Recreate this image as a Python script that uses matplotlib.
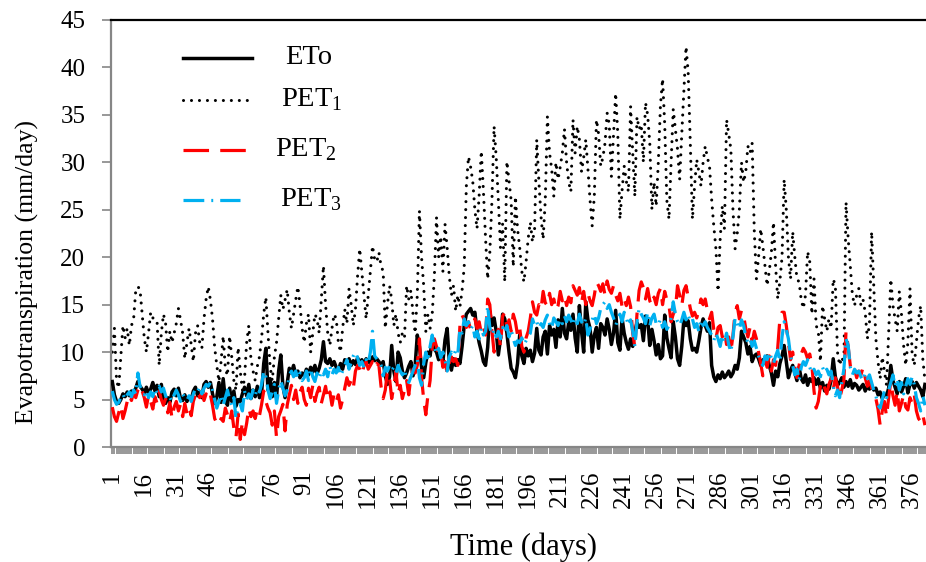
import numpy as np
import matplotlib
matplotlib.use("Agg")
import matplotlib.pyplot as plt
from matplotlib.lines import Line2D

plt.rcParams["font.family"] = ["Liberation Serif", "DejaVu Serif"]
plt.rcParams["mathtext.fontset"] = "custom"
plt.rcParams["mathtext.rm"] = "Liberation Serif"

# daily values (rows of 15 days)
eto = [
    6.9, 5.5, 4.8, 4.6, 5.0, 5.6, 5.3, 5.8, 5.4, 5.9, 5.6, 6.2, 6.9, 6.4, 6.1,
    5.7, 6.3, 5.6, 6.1, 6.8, 5.9, 6.5, 5.3, 6.6, 5.0, 4.6, 5.2, 4.7, 5.8, 6.1,
    5.4, 6.2, 5.1, 4.9, 5.5, 4.8, 5.3, 5.0, 5.9, 6.3, 5.4, 5.8, 5.2, 6.6, 6.9,
    6.3, 6.8, 5.6, 4.6, 5.3, 6.8, 4.7, 7.2, 5.0, 4.4, 6.2, 4.8, 5.9, 4.3, 5.0,
    4.8, 5.6, 6.3, 5.4, 6.6, 5.1, 6.0, 5.3, 6.4, 5.2, 5.6, 8.8, 10.4, 6.0, 7.2,
    5.3, 6.8, 5.2, 8.0, 9.7, 6.4, 5.2, 6.7, 8.3, 7.8, 8.6, 7.6, 8.0, 7.3, 7.8,
    7.5, 8.2, 7.6, 8.4, 7.9, 8.6, 7.7, 8.3, 9.2, 11.1, 9.0, 8.8, 9.3, 8.6, 9.0,
    8.4, 8.1, 8.8, 8.2, 9.2, 8.8, 9.3, 8.6, 9.1, 8.7, 9.4, 8.9, 9.2, 8.7, 9.3,
    9.0, 8.8, 9.5, 9.1, 9.3, 9.0, 8.6, 9.0, 7.5, 6.6, 7.4, 10.7, 8.0, 6.9, 10.0,
    9.4, 8.0, 7.3, 7.8, 8.5, 9.0, 7.5, 8.6, 11.8, 10.6, 8.4, 7.3, 8.9, 10.0, 9.6,
    11.4, 10.3, 10.0, 9.2, 9.9, 9.0, 11.3, 12.5, 9.0, 8.1, 9.3, 8.6, 9.2, 8.8, 10.6,
    12.8, 14.0, 14.3, 14.6, 13.9, 14.2, 12.2, 11.0, 10.1, 9.0, 8.6, 10.5, 14.3, 12.8, 13.6,
    12.2, 9.7, 11.4, 14.0, 13.5, 12.0, 10.0, 8.3, 7.9, 7.3, 8.8, 11.8, 9.6, 8.8, 10.4,
    9.6, 10.2, 9.0, 9.9, 12.5, 10.2, 9.7, 11.6, 12.2, 9.8, 12.8, 11.8, 12.4, 10.5, 13.4,
    11.6, 14.6, 12.0, 11.4, 13.2, 12.3, 14.0, 11.5, 10.0, 14.9, 12.2, 10.0, 15.3, 13.4, 12.5,
    10.0, 11.8, 12.6, 10.4, 13.0, 12.6, 11.8, 13.5, 12.4, 10.8, 12.0, 14.4, 11.0, 10.2, 13.6,
    12.0, 11.0, 10.3, 11.4, 10.6, 12.2, 13.1, 12.6, 12.9, 11.2, 13.8, 13.5, 10.7, 12.4, 11.2,
    9.7, 10.8, 9.3, 9.6, 13.9, 11.5, 10.4, 9.4, 13.2, 11.6, 9.3, 8.6, 10.6, 13.5, 12.8,
    13.3, 11.4, 10.2, 10.4, 10.0, 11.2, 12.6, 13.5, 12.8, 12.2, 13.1, 8.6, 7.4, 6.9, 7.6,
    7.2, 7.9, 7.3, 7.6, 8.0, 7.4, 7.8, 8.6, 8.2, 9.4, 12.2, 11.6, 11.0, 9.8, 10.6,
    9.0, 9.6, 9.8, 9.3, 8.6, 9.2, 8.9, 9.6, 8.6, 7.8, 6.5, 8.0, 7.4, 8.8, 9.6,
    10.7, 9.0, 7.3, 8.1, 8.6, 7.8, 7.0, 8.4, 7.2, 6.8, 7.6, 6.5, 7.2, 6.9, 7.3,
    6.6, 7.2, 6.2, 6.8, 5.9, 6.5, 6.1, 7.0, 9.3, 7.4, 6.5, 6.8, 7.3, 6.3, 6.9,
    6.4, 7.1, 6.2, 6.7, 6.5, 6.0, 6.3, 6.6, 5.9, 6.4, 6.1, 6.5, 6.0, 6.2, 5.5,
    5.8, 5.1, 5.6, 5.4, 6.2, 8.6, 7.0, 6.3, 5.6, 6.9, 5.8, 6.4, 7.2, 5.7, 6.6,
    6.9, 6.2, 6.8, 6.4, 6.0, 5.3, 6.6,
]

pet1 = [
    10.0, 12.5, 7.0, 6.2, 9.5, 12.8, 11.5, 12.5, 10.7, 12.8, 13.5, 16.5, 16.9, 16.6, 14.0,
    11.5, 10.0, 12.0, 14.2, 13.6, 13.6, 13.2, 8.6, 12.0, 14.0, 13.0, 10.0, 12.2, 11.0, 12.0,
    13.0, 14.6, 13.4, 12.0, 9.3, 11.0, 12.5, 10.8, 9.0, 12.0, 12.8, 11.0, 10.4, 13.5, 15.6,
    16.9, 15.5, 13.5, 10.5, 8.6, 6.9, 9.0, 11.7, 8.3, 7.5, 11.7, 9.5, 7.0, 6.0, 10.5,
    8.0, 6.0, 7.2, 11.0, 12.8, 9.3, 8.0, 7.0, 8.5, 9.5, 11.5, 14.0, 15.8, 12.0, 8.5,
    7.0, 9.5, 11.0, 13.5, 16.0, 14.5, 15.5, 16.6, 14.2, 12.5, 14.0, 15.5, 16.9, 15.0, 12.5,
    11.0, 13.0, 14.0, 10.0, 12.0, 14.0, 13.5, 12.0, 15.5, 19.1, 15.0, 12.0, 10.7, 12.5, 14.0,
    13.5, 11.0, 10.0, 12.5, 14.5, 13.0, 16.7, 15.0, 12.8, 14.5, 18.0, 20.9, 18.5, 16.0, 13.5,
    16.0, 18.5, 21.2, 19.8, 19.5, 20.5, 19.1, 18.5, 12.5, 15.0, 17.0, 15.5, 12.8, 14.0, 12.0,
    11.0, 12.0, 11.5, 17.0, 15.6, 16.5, 14.0, 12.0, 16.0, 24.9, 20.0, 17.0, 12.2, 14.0, 12.5,
    14.0, 18.0, 24.2, 20.0, 22.2, 18.5, 23.5, 21.0, 18.0, 16.0, 17.0, 14.3, 16.0, 14.8, 16.5,
    19.0, 27.5, 30.6, 29.5, 28.0, 25.0, 23.0, 26.5, 31.2, 27.0, 22.0, 17.7, 20.5, 26.0, 33.8,
    30.5, 26.0, 21.0, 23.5, 17.4, 30.1, 28.0, 26.0, 19.0, 26.4, 23.0, 21.0, 18.5, 17.4, 19.5,
    22.0, 23.7, 21.6, 23.0, 32.4, 28.0, 24.3, 21.9, 26.0, 34.8, 31.0, 29.3, 26.4, 30.0, 28.2,
    29.5, 31.0, 33.5, 30.0, 27.9, 26.9, 34.5, 31.0, 33.8, 32.4, 29.0, 30.5, 32.4, 29.3, 26.0,
    23.3, 26.5, 34.5, 33.0, 29.6, 30.5, 32.0, 35.2, 34.0, 28.5, 33.0, 37.3, 33.0, 24.0, 27.0,
    29.6, 28.0, 26.9, 35.9, 31.0, 26.4, 34.8, 33.5, 34.0, 30.0, 36.3, 35.0, 32.0, 25.0, 27.9,
    25.4, 30.0, 36.0, 38.8, 34.0, 26.0, 24.0, 30.0, 35.6, 33.5, 31.4, 28.2, 33.0, 37.5, 42.2,
    39.5, 32.0, 24.0, 27.5, 30.3, 29.0, 27.5, 30.0, 31.7, 30.5, 29.6, 26.1, 23.3, 20.9, 16.4,
    21.9, 25.4, 23.0, 34.5, 33.0, 31.4, 25.0, 20.9, 22.5, 25.0, 30.0, 27.9, 29.0, 31.7, 31.0,
    32.0, 22.7, 17.7, 20.0, 23.0, 21.2, 19.1, 17.0, 18.5, 20.5, 23.7, 19.0, 15.6, 17.5, 20.0,
    28.2, 25.0, 20.0, 17.7, 22.7, 20.0, 17.7, 17.4, 15.5, 14.6, 16.0, 20.6, 19.5, 14.0, 17.7,
    12.8, 12.2, 9.0, 14.9, 13.5, 12.2, 13.5, 12.5, 17.7, 17.0, 10.0, 8.6, 9.5, 8.8, 25.8,
    22.0, 19.1, 16.0, 14.9, 16.0, 16.7, 14.9, 15.5, 14.2, 11.4, 13.0, 22.7, 17.0, 11.4, 9.0,
    7.2, 9.5, 8.0, 6.5, 12.0, 17.7, 14.9, 13.5, 12.2, 16.4, 14.0, 10.7, 8.6, 11.0, 16.7,
    9.7, 8.6, 11.0, 13.5, 14.9, 9.3, 7.0,
]

pet2 = [
    4.2, 3.2, 2.7, 3.6, 4.4, 3.0, 3.8, 4.8, 5.5, 4.9, 5.8, 5.2, 6.0, 6.5, 5.9,
    5.2, 4.2, 5.5, 4.8, 4.0, 5.3, 4.6, 5.9, 5.0, 4.4, 5.1, 3.6, 4.7, 3.0, 4.2,
    4.8, 3.8, 4.5, 3.2, 4.6, 3.5, 4.2, 3.3, 4.8, 5.5, 6.0, 5.2, 5.8, 4.9, 5.6,
    5.0, 5.5, 4.4, 3.0, 2.5, 2.3, 3.0, 2.7, 4.1, 3.4, 2.6, 3.8, 2.0, 1.0, 3.5,
    0.8, 2.7, 1.3, 2.5, 4.1, 3.2, 3.8, 3.0, 4.0, 3.3, 4.5, 5.9, 4.8, 4.1, 3.6,
    2.3, 3.8, 1.0, 3.2, 3.8, 4.5, 1.7, 4.4, 5.5, 6.5, 5.0, 6.0, 4.6, 5.8, 6.3,
    5.0, 4.4, 6.2, 5.2, 6.5, 4.8, 5.7, 6.3, 4.6, 5.5, 6.4, 5.0, 5.8, 4.4, 5.6,
    4.8, 5.5, 4.1, 5.0, 6.2, 7.3, 6.5, 7.0, 6.2, 8.0, 8.6, 8.2, 7.6, 8.6, 9.0,
    8.2, 8.6, 9.0, 8.3, 8.8, 8.6, 6.4, 5.1, 6.0, 8.0, 7.2, 5.1, 6.4, 8.0, 5.6,
    6.5, 5.1, 6.0, 7.0, 5.5, 7.4, 8.2, 7.8, 8.6, 11.4, 7.3, 5.0, 3.4, 5.5, 7.0,
    10.5, 11.4, 10.6, 9.8, 10.0, 8.4, 9.0, 7.8, 8.8, 9.5, 9.0, 9.3, 8.6, 12.8, 13.9,
    13.4, 12.6, 13.2, 12.4, 13.0, 13.5, 12.5, 13.2, 12.0, 12.6, 11.8, 15.6, 15.0, 12.2, 10.0,
    11.0, 12.4, 10.5, 13.8, 14.2, 12.6, 13.4, 12.2, 14.0, 13.2, 11.8, 12.6, 10.6, 10.0, 11.5,
    12.2, 13.6, 15.3, 14.2, 13.9, 15.0, 14.5, 16.4, 15.2, 14.9, 16.2, 15.0, 15.6, 14.4, 14.9,
    16.4, 15.4, 16.0, 14.9, 15.8, 15.2, 17.0, 16.5, 16.0, 16.8, 15.2, 16.4, 15.0, 16.2, 15.4,
    14.9, 16.0, 17.4, 17.0, 16.4, 17.2, 16.0, 17.5, 16.6, 16.2, 17.0, 16.0, 15.4, 16.2, 14.8,
    15.6, 14.9, 15.8, 14.8, 12.0, 10.5, 14.0, 16.5, 17.4, 16.8, 15.6, 16.7, 15.4, 14.9, 15.8,
    15.0, 16.2, 16.7, 15.0, 16.4, 15.5, 14.9, 13.2, 14.0, 14.5, 17.0, 16.0, 14.9, 16.5, 17.0,
    15.8, 14.6, 13.8, 14.2, 13.6, 14.4, 15.6, 15.0, 15.6, 14.4, 13.5, 14.2, 12.4, 11.4, 12.6,
    12.8, 11.6, 12.2, 10.8, 11.6, 10.0, 11.8, 14.2, 14.9, 13.5, 14.4, 13.8, 12.5, 11.6, 12.6,
    11.0, 12.2, 11.4, 10.0, 8.8, 7.5, 9.2, 8.4, 9.6, 8.0, 9.2, 8.6, 10.5, 13.5, 14.2,
    14.2, 12.8, 11.0, 9.2, 10.0, 8.4, 7.3, 8.6, 9.8, 10.4, 10.0, 9.3, 9.8, 8.6, 5.9,
    4.1, 4.8, 6.4, 7.0, 6.2, 5.6, 6.6, 7.2, 6.0, 7.3, 6.4, 5.1, 6.0, 7.0, 12.2,
    10.6, 8.6, 7.8, 8.2, 7.3, 8.0, 7.6, 8.4, 7.3, 6.4, 7.0, 6.2, 5.8, 5.1, 4.0,
    2.3, 3.8, 4.8, 3.2, 5.2, 6.9, 5.4, 4.4, 5.9, 3.8, 4.6, 5.5, 4.2, 3.9, 5.2,
    4.6, 5.5, 3.8, 3.0, 2.7, 3.4, 2.3,
]

pet3 = [
    5.9, 5.0, 4.5, 4.7, 5.2, 5.6, 5.0, 5.5, 5.8, 5.3, 6.0, 5.6, 7.8, 6.4, 6.0,
    5.5, 6.0, 5.2, 5.8, 5.3, 6.2, 5.7, 6.4, 5.8, 6.2, 5.4, 4.9, 5.2, 4.8, 5.5,
    6.0, 5.5, 4.8, 5.6, 5.2, 4.9, 5.4, 4.8, 5.6, 6.1, 5.8, 6.4, 5.6, 6.2, 6.6,
    6.4, 6.8, 6.0, 5.0, 4.1, 4.8, 5.5, 4.4, 5.2, 6.0, 5.0, 4.4, 5.2, 3.0, 4.2,
    4.5, 3.8, 5.9, 5.0, 5.6, 5.1, 6.0, 5.4, 6.2, 5.8, 6.6, 8.0, 7.4, 6.0, 5.1,
    5.8, 6.6, 4.6, 6.0, 7.0, 6.2, 5.4, 6.0, 7.6, 8.0, 7.4, 8.0, 7.2, 7.8, 7.0,
    7.3, 8.0, 7.0, 8.3, 7.4, 6.9, 7.8, 7.2, 8.0, 7.6, 8.2, 7.4, 8.6, 7.6, 8.2,
    7.8, 8.4, 7.5, 8.0, 8.6, 9.2, 8.2, 8.9, 9.6, 10.0, 9.4, 8.6, 9.0, 8.4, 9.2,
    8.8, 10.0, 12.2, 9.6, 9.3, 9.0, 8.6, 7.5, 8.4, 8.0, 8.6, 8.1, 8.4, 7.8, 8.6,
    8.0, 7.6, 8.2, 7.2, 6.8, 7.4, 8.0, 8.6, 9.3, 7.3, 6.5, 8.8, 10.0, 9.0, 10.6,
    11.8, 10.5, 9.8, 10.4, 9.4, 10.0, 9.2, 8.0, 9.5, 10.0, 9.6, 10.2, 9.8, 12.5, 12.0,
    13.5, 12.8, 13.2, 12.4, 12.8, 11.6, 12.2, 11.4, 12.6, 11.8, 12.2, 14.9, 12.6, 11.8, 12.4,
    11.6, 12.2, 11.4, 12.6, 12.0, 12.8, 11.6, 12.4, 11.4, 10.7, 11.2, 11.0, 11.5, 10.8, 11.2,
    11.6, 12.0, 13.5, 12.8, 13.2, 12.5, 13.0, 12.6, 13.4, 13.9, 13.0, 12.5, 13.6, 13.2, 12.8,
    13.5, 13.0, 13.8, 13.2, 13.9, 13.4, 12.8, 13.6, 13.0, 14.0, 13.2, 12.8, 13.6, 11.8, 12.4,
    13.4, 14.0, 13.0, 13.6, 14.6, 15.0, 15.3, 14.6, 15.0, 14.2, 13.6, 12.8, 13.4, 14.0, 13.2,
    14.2, 13.6, 12.8, 13.4, 12.2, 10.6, 13.2, 14.6, 14.0, 13.6, 13.0, 14.2, 12.8, 13.6, 14.0,
    13.0, 12.8, 13.5, 12.6, 13.2, 12.4, 12.8, 13.6, 15.3, 14.0, 13.2, 12.8, 13.4, 14.2, 13.4,
    14.0, 13.2, 13.5, 12.6, 13.0, 12.2, 13.4, 12.8, 13.2, 12.6, 12.2, 11.8, 11.2, 12.0, 11.4,
    10.6, 11.8, 11.0, 12.0, 10.8, 10.0, 11.6, 13.6, 13.0, 12.4, 13.4, 12.8, 11.6, 11.0, 11.4,
    10.6, 11.2, 10.4, 9.6, 9.0, 8.6, 9.6, 9.2, 10.0, 9.4, 8.8, 9.6, 10.2, 9.0, 11.6,
    13.2, 12.4, 11.4, 9.6, 8.6, 7.6, 8.2, 7.0, 8.4, 9.0, 8.6, 9.2, 8.4, 7.8, 8.2,
    7.6, 8.0, 7.4, 8.4, 7.8, 8.2, 7.6, 8.0, 6.4, 5.4, 6.0, 5.2, 6.8, 8.2, 11.4,
    10.7, 8.4, 7.6, 8.2, 7.8, 8.0, 7.4, 7.0, 7.8, 7.2, 7.6, 6.8, 6.0, 5.4, 4.4,
    4.1, 5.0, 5.9, 5.2, 6.0, 6.8, 7.6, 6.4, 7.2, 6.0, 6.8, 5.6, 6.4, 7.2, 6.6,
    7.4, 6.6, 5.2, 4.6, 3.8, 5.4, 4.4,
]

days = np.arange(1, len(eto) + 1)
xticks = list(range(1, 377, 15))
yticks = list(range(0, 46, 5))

W, H = 926, 562
fig = plt.figure(figsize=(W / 100, H / 100), dpi=100)
ax = fig.add_axes([111 / W, 1 - 447 / H, 1 - 111 / W, (447 - 20) / H])

axis_grey = "#868686"
cyan = "#00B0F0"
dots = (0, (0.01, 2.6))
dashes = (0, (8, 3.5))
dashdot = (0, (6.5, 2.2, 0.6, 2.2))

ax.plot(days, eto, color="black", lw=2.5, solid_joinstyle="round", zorder=3)
ax.plot(days, pet1, color="black", lw=2.2, linestyle=dots,
        dash_capstyle="round", zorder=2)
ax.plot(days, pet2, color="#FF0000", lw=2.3, linestyle=dashes, zorder=4)
ax.plot(days, pet3, color=cyan, lw=2.3, linestyle=dashdot, zorder=5)

ax.set_xlim(0.4, 382.5)
ax.set_ylim(0, 45)
ax.set_xticks(xticks)
ax.set_xticklabels([str(t) for t in xticks], rotation=90, fontsize=18)
ax.set_xticks(days, minor=True)
ax.set_yticks(yticks)
ax.set_yticklabels([str(t) for t in yticks], fontsize=18)
ax.tick_params(axis="both", which="both", direction="out", color=axis_grey,
               width=1.2)
ax.tick_params(axis="x", which="both", length=5, pad=12)
ax.tick_params(axis="y", which="major", length=6.5, pad=12)

for side in ("left", "bottom"):
    ax.spines[side].set_color(axis_grey)
    ax.spines[side].set_linewidth(1.6)
ax.spines["right"].set_visible(False)
ax.spines["top"].set_color("black")
ax.spines["top"].set_linewidth(1.6)

fig.text(27 / W, 1 - 272 / H, "Evapotranspiration (mm/day)", fontsize=18.5,
         rotation=90, ha="center", va="center")
fig.text(524 / W, 1 - 547 / H, "Time (days)", fontsize=22,
         ha="center", va="center")

# legend, drawn by hand to keep Excel's spacing
leg = [
    ("ETo", 58, dict(color="black", lw=2.5), 183, 252, 285),
    ("PET$_\\mathrm{1}$", 100, dict(color="black", lw=2.2, linestyle=dots,
                                dash_capstyle="round"), 183, 252, 281),
    ("PET$_\\mathrm{2}$", 150, dict(color="#FF0000", lw=2.3, linestyle=dashes),
     183, 252, 275),
    ("PET$_\\mathrm{3}$", 200, dict(color=cyan, lw=2.3, linestyle=dashdot),
     183, 240, 280),
]
for label, ypix, style, x0, x1, xt in leg:
    fig.add_artist(Line2D([x0 / W, x1 / W], [1 - ypix / H, 1 - ypix / H],
                          transform=fig.transFigure, **style))
    fig.text(xt / W, 1 - ypix / H, label, fontsize=20.5, ha="left", va="center")

fig.savefig("out.png", dpi=100)
